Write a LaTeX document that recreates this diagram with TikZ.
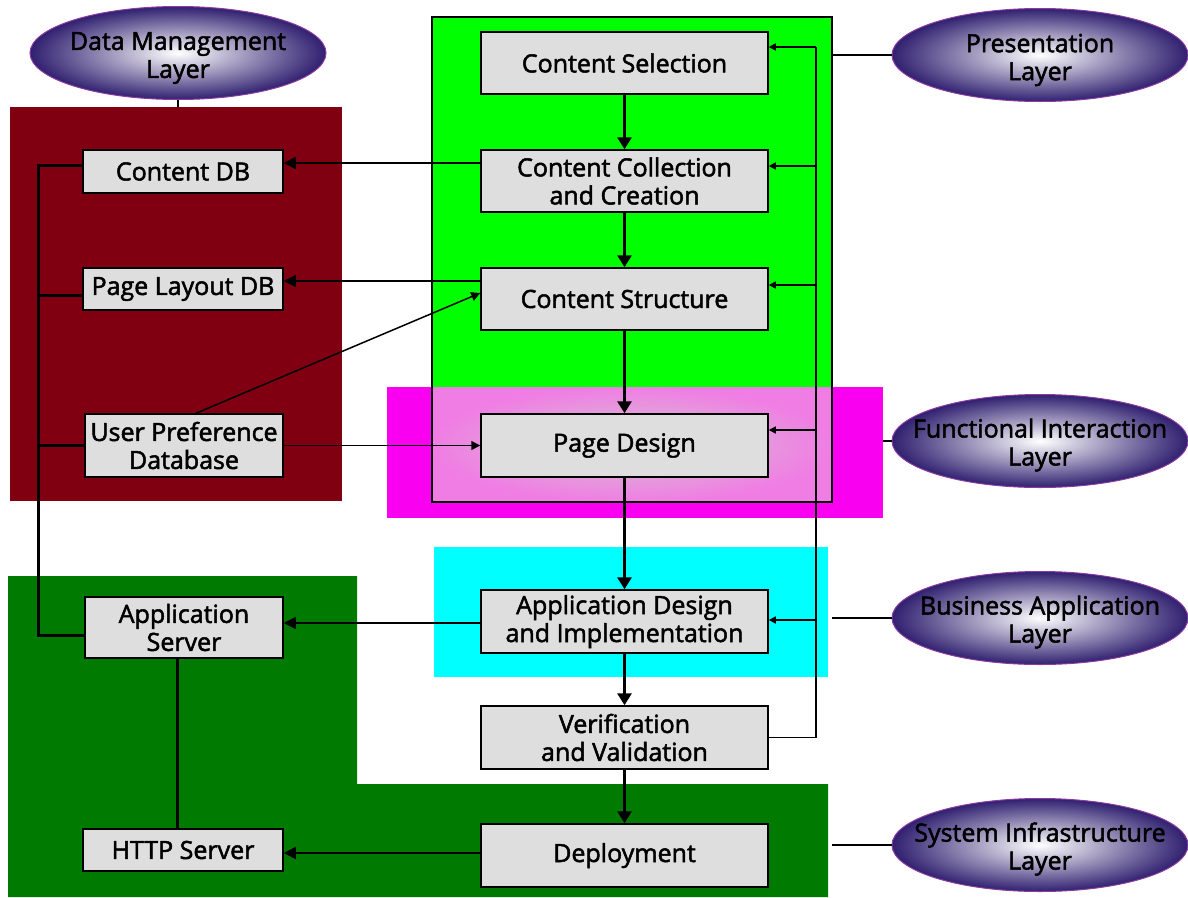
\documentclass[tikz,border=0pt]{standalone}
\usepackage{fontspec}
\setmainfont{Open Sans}
\newfontfamily\lblfont{Open Sans}[FakeBold=2]
\usetikzlibrary{arrows.meta,shapes.geometric}
\definecolor{dmred}{RGB}{128,0,18}
\definecolor{dkgreen}{RGB}{0,122,0}
\definecolor{brgreen}{RGB}{0,255,0}
\definecolor{magen}{RGB}{250,0,240}
\definecolor{cyanr}{RGB}{0,255,255}
\definecolor{pinkout}{RGB}{240,125,228}
\definecolor{pinkin}{RGB}{212,198,206}
\definecolor{boxgray}{RGB}{222,222,222}
\definecolor{ellblue}{RGB}{48,32,112}
\definecolor{ellborder}{RGB}{140,60,160}
\begin{document}
\begin{tikzpicture}[x=1pt,y=-1pt,
  txt/.style={font=\lblfont\fontsize{25}{28}\selectfont},
  box/.style={txt,draw=black,line width=1.5pt,fill=boxgray,inner sep=0pt,align=center},
  layer/.style={ellipse,draw=ellborder,line width=1pt,inner color=white,outer color=ellblue,inner sep=0pt,minimum width=296pt,minimum height=93pt},
  layertxt/.style={txt,align=center,inner sep=0pt},
  main/.style={line width=3pt,-{Triangle[width=14pt,length=12pt]}},
  larrow/.style={line width=1.5pt,-{Triangle[width=12pt,length=12pt]}},
  sarrow/.style={line width=1.5pt,-{Triangle[width=9pt,length=9pt]}},
  fbarrow/.style={line width=1.5pt,-{Triangle[width=7pt,length=7pt]}},
  thinline/.style={line width=1.5pt},
  bus/.style={line width=3pt}]
\useasboundingbox (0,0) rectangle (1188,897);
% layer regions
\fill[dmred] (10,107) rectangle (342,501);
\fill[dkgreen] (8,576) -- (357,576) -- (357,784) -- (828,784) -- (828,897) -- (8,897) -- cycle;
\fill[cyanr] (434,547) rectangle (828,677);
\fill[brgreen] (432,17) rectangle (832,387);
\fill[magen] (387,387) rectangle (883,518);
\shade[inner color=pinkin,outer color=pinkout] (432,387) rectangle (832,502);
\draw[line width=1.5pt] (432,17) rectangle (832,502);
% layer ellipses
\node[layer] (dm) at (178,53) {};
\node[layertxt] (dmt) at ([yshift=-5pt]dm.center) {Data Management\\Layer};
\node[layer] (pres) at (1040,55) {};
\node[layertxt] (prest) at ([yshift=-5pt]pres.center) {Presentation\\Layer};
\node[layer] (fi) at (1040,441) {};
\node[layertxt] (fit) at ([yshift=-4pt]fi.center) {Functional Interaction\\Layer};
\node[layer] (ba) at (1040,618) {};
\node[layertxt] (bat) at ([yshift=-4pt]ba.center) {Business Application\\Layer};
\node[layer] (si) at (1040,845) {};
\node[layertxt] (sit) at ([yshift=-4pt]si.center) {System Infrastructure\\Layer};
\draw[thinline] (dm.south) -- (dm.south |- 0,107);
\draw[thinline] (pres.west) -- (pres.west -| 832,0);
\draw[thinline] (fi.west) -- (fi.west -| 883,0);
\draw[thinline] (ba.west) -- (ba.west -| 832,0);
\draw[thinline] (si.west) -- (si.west -| 832,0);
% process boxes
\node[box,minimum width=287pt,minimum height=62pt] (cs) at (624.5,63) {Content Selection};
\node[box,minimum width=287pt,minimum height=62pt] (cc) at (624.5,181) {Content Collection\\and Creation};
\node[box,minimum width=287pt,minimum height=62pt] (cst) at (624.5,299) {Content Structure};
\node[box,minimum width=287pt,minimum height=63pt] (pd) at (624.5,445.5) {Page Design};
\node[box,minimum width=287pt,minimum height=63pt] (ad) at (624.5,621.5) {Application Design\\and Implementation};
\node[box,minimum width=287pt,minimum height=63pt] (vv) at (624.5,737.5) {Verification\\and Validation};
\node[box,minimum width=287pt,minimum height=63pt] (dp) at (624.5,855.5) {Deployment};
% data / infrastructure boxes
\node[box,minimum width=200pt,minimum height=43pt] (cdb) at (183,171.5) {Content DB};
\node[box,minimum width=200pt,minimum height=42pt] (pldb) at (183,289) {Page Layout DB};
\node[box,minimum width=198pt,minimum height=63pt] (up) at (184,445.5) {User Preference\\Database};
\node[box,minimum width=198pt,minimum height=61pt] (as) at (184,627.5) {Application\\Server};
\node[box,minimum width=200pt,minimum height=42pt] (http) at (183,850) {HTTP Server};
% main flow
\draw[main] (cs.south) -- (cc.north);
\draw[main] (cc.south) -- (cst.north);
\draw[main] (cst.south) -- (pd.north);
\draw[main] (pd.south) -- (ad.north);
\draw[main] (ad.south) -- (vv.north);
\draw[main] (vv.south) -- (dp.north);
% to data / infrastructure
\draw[larrow] (cc.west |- 0,163) -- (cdb.east |- 0,163);
\draw[larrow] (cst.west |- 0,281) -- (pldb.east |- 0,281);
\draw[larrow] (ad.west |- 0,623) -- (as.east |- 0,623);
\draw[larrow] (dp.west |- 0,853) -- (http.east |- 0,853);
\draw[sarrow] (up.north -| 196,0) -- (cst.west |- 0,293);
\draw[sarrow] (up.east) -- (pd.west);
% left bus
\coordinate (bustop) at (38,165);
\coordinate (busbot) at (38,635);
\draw[bus] (cdb.west |- bustop) -- (bustop) -- (busbot) -- (as.west |- busbot);
\draw[bus] (bustop |- 0,295) -- (pldb.west |- 0,295);
\draw[bus] (bustop |- up.west) -- (up.west);
\draw[bus] (as.south -| 177,0) -- (http.north -| 177,0);
% feedback loop
\coordinate (fbtop) at (816,47);
\draw[thinline] (vv.east) -| (fbtop);
\draw[fbarrow] (fbtop) -- (fbtop -| cs.east);
\draw[fbarrow] (fbtop |- 0,166) -- (cc.east |- 0,166);
\draw[fbarrow] (fbtop |- 0,285) -- (cst.east |- 0,285);
\draw[fbarrow] (fbtop |- 0,430) -- (pd.east |- 0,430);
\draw[fbarrow] (fbtop |- 0,620) -- (ad.east |- 0,620);
\end{tikzpicture}
\end{document}
